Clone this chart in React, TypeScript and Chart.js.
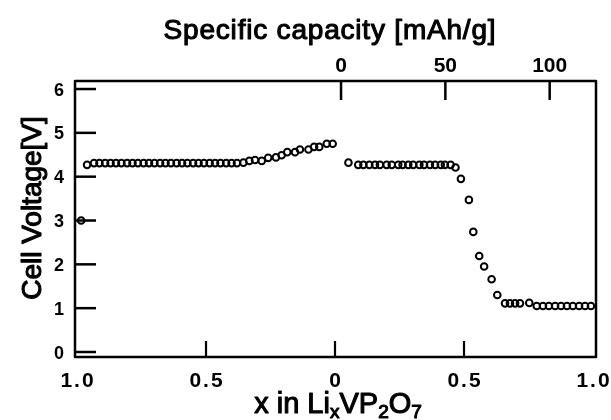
import React, { useEffect, useRef } from "react";
import { Chart, registerables } from "chart.js";

Chart.register(...registerables);

// ---- data (x in LixVP2O7, cell voltage V) ----
// charge: x decreases from 1 to 0
const chargeX = [
  0.984, 0.961, 0.934, 0.913, 0.891, 0.870, 0.849, 0.828, 0.806, 0.785,
  0.764, 0.742, 0.721, 0.700, 0.678, 0.657, 0.636, 0.614, 0.593, 0.572,
  0.550, 0.529, 0.508, 0.486, 0.465, 0.444, 0.422, 0.401, 0.380, 0.355,
  0.332, 0.310, 0.284, 0.259, 0.229, 0.207, 0.185, 0.155, 0.136, 0.103,
  0.081, 0.061, 0.032, 0.009,
];
const chargeV = [
  3.0, 4.27, 4.31, 4.31, 4.31, 4.31, 4.31, 4.31, 4.31, 4.31,
  4.31, 4.31, 4.31, 4.31, 4.31, 4.31, 4.31, 4.31, 4.31, 4.31,
  4.31, 4.31, 4.31, 4.31, 4.31, 4.31, 4.31, 4.31, 4.31, 4.32,
  4.36, 4.38, 4.36, 4.43, 4.44, 4.49, 4.56, 4.56, 4.62, 4.62,
  4.68, 4.68, 4.75, 4.75,
];
// discharge: x increases from 0 to 1
const dischargeX = [
  0.052, 0.090, 0.110, 0.133, 0.155, 0.174, 0.200, 0.220, 0.245, 0.262,
  0.284, 0.303, 0.327, 0.345, 0.368, 0.388, 0.410, 0.426, 0.448, 0.467,
  0.488, 0.519, 0.536, 0.559, 0.578, 0.607, 0.629, 0.659, 0.678, 0.698,
  0.717, 0.753, 0.782, 0.806, 0.829, 0.853, 0.876, 0.899, 0.922, 0.946,
  0.969, 0.992,
];
const dischargeV = [
  4.32, 4.27, 4.27, 4.27, 4.27, 4.27, 4.27, 4.27, 4.27, 4.27,
  4.27, 4.27, 4.27, 4.27, 4.27, 4.27, 4.27, 4.27, 4.27, 4.21,
  3.95, 3.47, 2.74, 2.19, 1.95, 1.66, 1.30, 1.11, 1.11, 1.11,
  1.11, 1.12, 1.05, 1.05, 1.05, 1.05, 1.05, 1.05, 1.05, 1.05,
  1.05, 1.05,
];

// ---- ticks ----
const yTickValues = [0, 1, 2, 3, 4, 5, 6];
const bottomTickPos = [0, 0.5, 1, 1.5, 2];
const bottomTickLabels = ["1.0", "0.5", "0", "0.5", "1.0"];
const bottomTickMarks = [0.5, 1, 1.5];
const topTickValues = [0, 50, 100];

const titleTop = "Specific capacity [mAh/g]";
const titleY = "Cell Voltage[V]";
const titleXParts = [
  { t: "x in Li", sub: false },
  { t: "x", sub: true },
  { t: "VP", sub: false },
  { t: "2", sub: true },
  { t: "O", sub: false },
  { t: "7", sub: true },
];

const FONT = '"Liberation Sans", Arial, Helvetica, sans-serif';

const decor = {
  id: "decor",
  afterDraw(chart: any) {
    const { ctx, chartArea: a, scales } = chart;
    const sx = scales.x;
    const sy = scales.y;
    const sx2 = scales.x2;
    ctx.save();
    ctx.strokeStyle = "#000";
    ctx.fillStyle = "#000";
    ctx.lineCap = "butt";
    ctx.lineJoin = "round";
    const line = (x1: number, y1: number, x2: number, y2: number, w: number) => {
      ctx.lineWidth = w;
      ctx.beginPath();
      ctx.moveTo(x1, y1);
      ctx.lineTo(x2, y2);
      ctx.stroke();
    };
    // frame
    ctx.lineWidth = 2.5;
    ctx.strokeRect(a.left, a.top, a.right - a.left, a.bottom - a.top);
    // y ticks (inside)
    for (const v of yTickValues) {
      const p = sy.getPixelForValue(v);
      line(a.left, p, a.left + 21, p, 2.5);
    }
    // bottom ticks (inside)
    for (const u of bottomTickMarks) {
      const p = sx.getPixelForValue(u);
      line(p, a.bottom, p, a.bottom - 16, 2.2);
    }
    // top ticks (inside)
    for (const v of topTickValues) {
      const p = sx2.getPixelForValue(v);
      line(p, a.top, p, a.top + 19, 2.5);
    }

    // y tick labels
    ctx.font = `bold 18px ${FONT}`;
    ctx.textAlign = "right";
    ctx.textBaseline = "alphabetic";
    for (const v of yTickValues) {
      const p = sy.getPixelForValue(v);
      ctx.fillText(String(v), 64, p + 6.5);
    }
    // bottom tick labels
    ctx.font = `bold 21px ${FONT}`;
    ctx.textAlign = "center";
    (ctx as any).letterSpacing = "2px";
    bottomTickPos.forEach((u, i) => {
      const p = sx.getPixelForValue(u);
      ctx.fillText(bottomTickLabels[i], p + 1, 387);
    });
    (ctx as any).letterSpacing = "0px";
    // top tick labels
    ctx.font = `bold 21px ${FONT}`;
    for (const v of topTickValues) {
      const p = sx2.getPixelForValue(v);
      ctx.fillText(String(v), p, 72);
    }

    // titles (medium weight simulated)
    ctx.lineWidth = 1.1;
    ctx.font = `28px ${FONT}`;
    ctx.textAlign = "center";
    (ctx as any).letterSpacing = "0.8px";
    ctx.fillText(titleTop, 330, 39);
    ctx.strokeText(titleTop, 330, 39);
    (ctx as any).letterSpacing = "0px";

    // y title
    ctx.save();
    ctx.translate(41, 208);
    ctx.rotate(-Math.PI / 2);
    ctx.font = `28px ${FONT}`;
    ctx.textAlign = "center";
    ctx.fillText(titleY, 0, 0);
    ctx.strokeText(titleY, 0, 0);
    ctx.restore();

    // x title with subscripts
    const mainFont = `29px ${FONT}`;
    const subFont = `19px ${FONT}`;
    ctx.textAlign = "left";
    let total = 0;
    const widths: number[] = [];
    for (const part of titleXParts) {
      ctx.font = part.sub ? subFont : mainFont;
      const w = ctx.measureText(part.t).width;
      widths.push(w);
      total += w;
    }
    let cx = 338 - total / 2;
    const base = 413;
    titleXParts.forEach((part, i) => {
      ctx.font = part.sub ? subFont : mainFont;
      const yy = part.sub ? base + 5 : base;
      ctx.fillText(part.t, cx, yy);
      ctx.strokeText(part.t, cx, yy);
      cx += widths[i];
    });
    ctx.restore();
  },
};

export default function App() {
  const ref = useRef<HTMLCanvasElement | null>(null);
  useEffect(() => {
    if (!ref.current) return;
    const chargeData = chargeX.map((x, i) => ({ x: 1 - x, y: chargeV[i] }));
    const dischargeData = dischargeX.map((x, i) => ({ x: 1 + x, y: dischargeV[i] }));
    const pointStyle = {
      pointRadius: 3.3,
      pointBorderWidth: 2,
      pointBorderColor: "#000",
      pointBackgroundColor: "rgba(0,0,0,0)",
      showLine: false,
    };
    const chart = new Chart(ref.current, {
      type: "scatter",
      data: {
        datasets: [
          { label: "charge", data: chargeData, ...pointStyle },
          { label: "discharge", data: dischargeData, ...pointStyle },
        ],
      },
      options: {
        responsive: false,
        animation: false,
        devicePixelRatio: 1,
        layout: { padding: { left: 75, top: 81, right: 15, bottom: 63 } },
        plugins: {
          legend: { display: false },
          tooltip: { enabled: false },
          title: { display: false },
        },
        scales: {
          x: { type: "linear", display: false, min: -0.0078, max: 2.0116 },
          y: { type: "linear", display: false, min: -0.114, max: 6.183 },
          x2: { type: "linear", display: false, position: "top", min: -127.5, max: 122.2 },
        },
      },
      plugins: [decor],
    });
    return () => chart.destroy();
  }, []);
  return (
    <div style={{ position: "absolute", left: 0, top: 0, width: 611, height: 420, background: "#fff" }}>
      <canvas ref={ref} width={611} height={420} style={{ width: 611, height: 420, display: "block" }} />
    </div>
  );
}
